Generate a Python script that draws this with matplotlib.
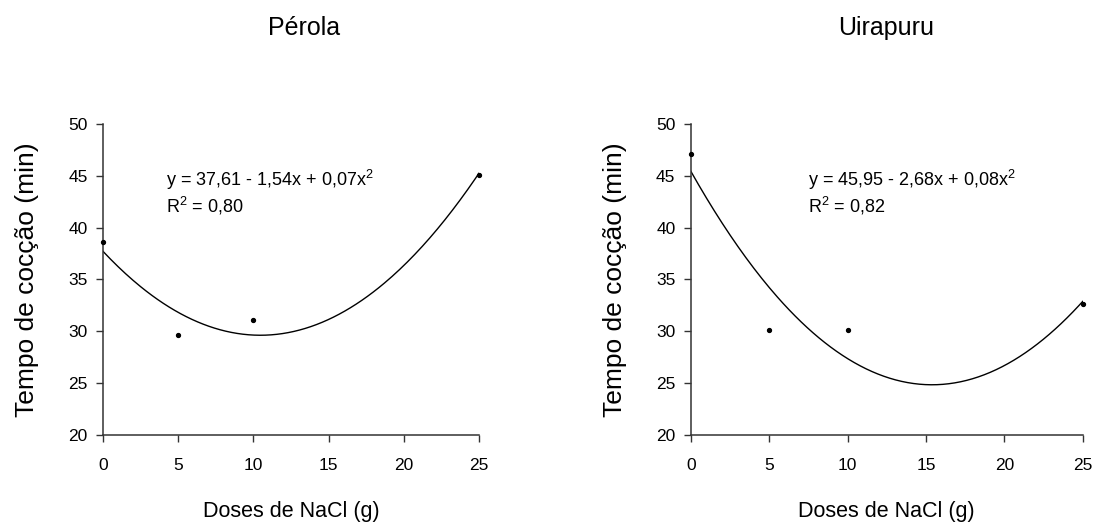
import numpy as np
import matplotlib.pyplot as plt

plt.rcParams['font.family'] = ['Liberation Sans', 'DejaVu Sans']
plt.rcParams['mathtext.fontset'] = 'custom'
plt.rcParams['mathtext.rm'] = 'Liberation Sans'
plt.rcParams['mathtext.it'] = 'Liberation Sans'

# doses de NaCl (g)
doses = [0, 5, 10, 25]
# tempo de cocção (min)
perola = [38.6, 29.6, 31.1, 45.1]
uirapuru = [47.1, 30.1, 30.1, 32.6]

titles = ['Pérola', 'Uirapuru']
equations = ['y = 37,61 - 1,54x + 0,07x$^2$', 'y = 45,95 - 2,68x + 0,08x$^2$']
r2_labels = ['R$^2$ = 0,80', 'R$^2$ = 0,82']

fig = plt.figure(figsize=(10.93, 5.23), dpi=100)
axes = [fig.add_axes([0.0942, 0.1688, 0.344, 0.594]),
        fig.add_axes([0.632, 0.1688, 0.3586, 0.594])]
title_x = [0.278, 0.811]
eq_x = [0.168, 0.30]

for ax, y, title, eq, r2, tx, ex in zip(axes, [perola, uirapuru], titles, equations,
                                        r2_labels, title_x, eq_x):
    # quadratic trend line
    coef = np.polyfit(doses, y, 2)
    xs = np.linspace(0, 25, 200)
    ax.plot(xs, np.polyval(coef, xs), color='black', lw=1.0)
    ax.plot(doses, y, 'o', color='black', ms=2.8, clip_on=False, zorder=3)

    ax.set_xlim(0, 25)
    ax.set_ylim(20, 50)
    ax.set_xticks([0, 5, 10, 15, 20, 25])
    ax.set_yticks([20, 25, 30, 35, 40, 45, 50])
    ax.spines['top'].set_visible(False)
    ax.spines['right'].set_visible(False)
    for s in ['left', 'bottom']:
        ax.spines[s].set_color('#333333')
        ax.spines[s].set_linewidth(1.1)
    ax.tick_params(direction='out', length=5, width=1.0, color='#333333',
                   labelsize=12.5, pad=6)
    ax.tick_params(axis='x', pad=12)
    ax.set_xlabel('Doses de NaCl (g)', fontsize=15.5, labelpad=20)
    ax.set_ylabel('Tempo de cocção (min)', fontsize=19, labelpad=21)

    ax.text(ex, 0.82, eq, transform=ax.transAxes, fontsize=13, va='center')
    ax.text(ex, 0.735, r2, transform=ax.transAxes, fontsize=13, va='center')
    fig.text(tx, 0.946, title, fontsize=18, ha='center', va='center')

plt.savefig('out.png', dpi=100)
